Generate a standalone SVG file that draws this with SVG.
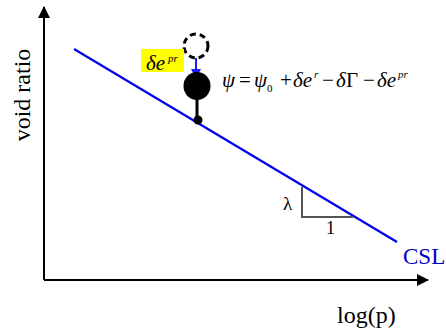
<svg xmlns="http://www.w3.org/2000/svg" width="446" height="331" viewBox="0 0 446 331">
<style>
.ax{stroke:#000;stroke-width:2;fill:none;}
.lbl{font-size:24px;fill:#000;}
.eq{font-size:21px;font-style:italic;fill:#000;}
.op{font-size:21px;fill:#000;}
.sm{font-size:11px;fill:#000;}
</style>
<defs>
<marker id="ah" markerWidth="12" markerHeight="12" refX="11" refY="6" orient="auto" markerUnits="userSpaceOnUse">
<path d="M0,0 L12,6 L0,12 Z" fill="#000"/>
</marker>
<marker id="bh" markerWidth="10" markerHeight="10" refX="9" refY="5" orient="auto" markerUnits="userSpaceOnUse">
<path d="M0,0 L10,5 L0,10 Z" fill="#1a1aff"/>
</marker>
</defs>
<rect width="446" height="331" fill="#fff"/>
<g font-family="'Liberation Serif','DejaVu Serif','Times New Roman',serif">
<g id="connectors">
<line class="ax" x1="44" y1="280" x2="44" y2="7" marker-end="url(#ah)"/>
<line class="ax" x1="44" y1="280" x2="428" y2="280" marker-end="url(#ah)"/>
<line x1="196" y1="58" x2="196" y2="78" stroke="#1a1aff" stroke-width="2" marker-end="url(#bh)"/>
<line x1="197" y1="95" x2="197" y2="120" stroke="#000" stroke-width="3"/>
</g>
<g id="csl">
<line x1="74" y1="49" x2="397" y2="242" stroke="#0000ee" stroke-width="2.2"/>
<text x="403" y="264" font-size="23" fill="#0000cc">CSL</text>
</g>
<g id="slope">
<path d="M302,187 L302,217 L353,217" fill="none" stroke="#555" stroke-width="2"/>
<text x="283" y="210" font-size="19" fill="#000">λ</text>
<text x="326" y="234" font-size="18" fill="#000">1</text>
</g>
<g id="dashed-circle">
<circle cx="196" cy="46" r="12" fill="#fff" stroke="#000" stroke-width="3" stroke-dasharray="6,4"/>
</g>
<g id="filled-circle">
<ellipse cx="197" cy="86" rx="13.5" ry="14" fill="#000"/>
</g>
<g id="dot">
<circle cx="198" cy="120" r="4.5" fill="#000"/>
</g>
<g id="dep-label">
<rect x="141" y="49" width="43" height="23" fill="#ffff00"/>
<text x="146" y="70" class="eq" font-size="22">δe</text>
<text x="168" y="62" class="sm" font-size="12" font-style="italic">pr</text>
</g>
<g id="equation">
<text x="222" y="87" class="eq">ψ</text>
<text x="239" y="87" class="op">=</text>
<text x="254" y="87" class="eq">ψ</text>
<text x="267" y="92" class="sm">0</text>
<text x="280" y="87" class="op">+</text>
<text x="293" y="87" class="eq">δe</text>
<text x="314" y="78" class="sm" font-style="italic">r</text>
<text x="322" y="87" class="op">−</text>
<text x="336" y="87" class="eq">δ</text>
<text x="346" y="87" class="op">Γ</text>
<text x="363" y="87" class="op">−</text>
<text x="377" y="87" class="eq">δe</text>
<text x="398" y="78" class="sm" font-style="italic">pr</text>
</g>
<g id="axis-labels">
<text class="lbl" transform="translate(30,95) rotate(-90)" text-anchor="middle">void ratio</text>
<text class="lbl" x="337" y="323">log(p)</text>
</g>
</g>
</svg>
